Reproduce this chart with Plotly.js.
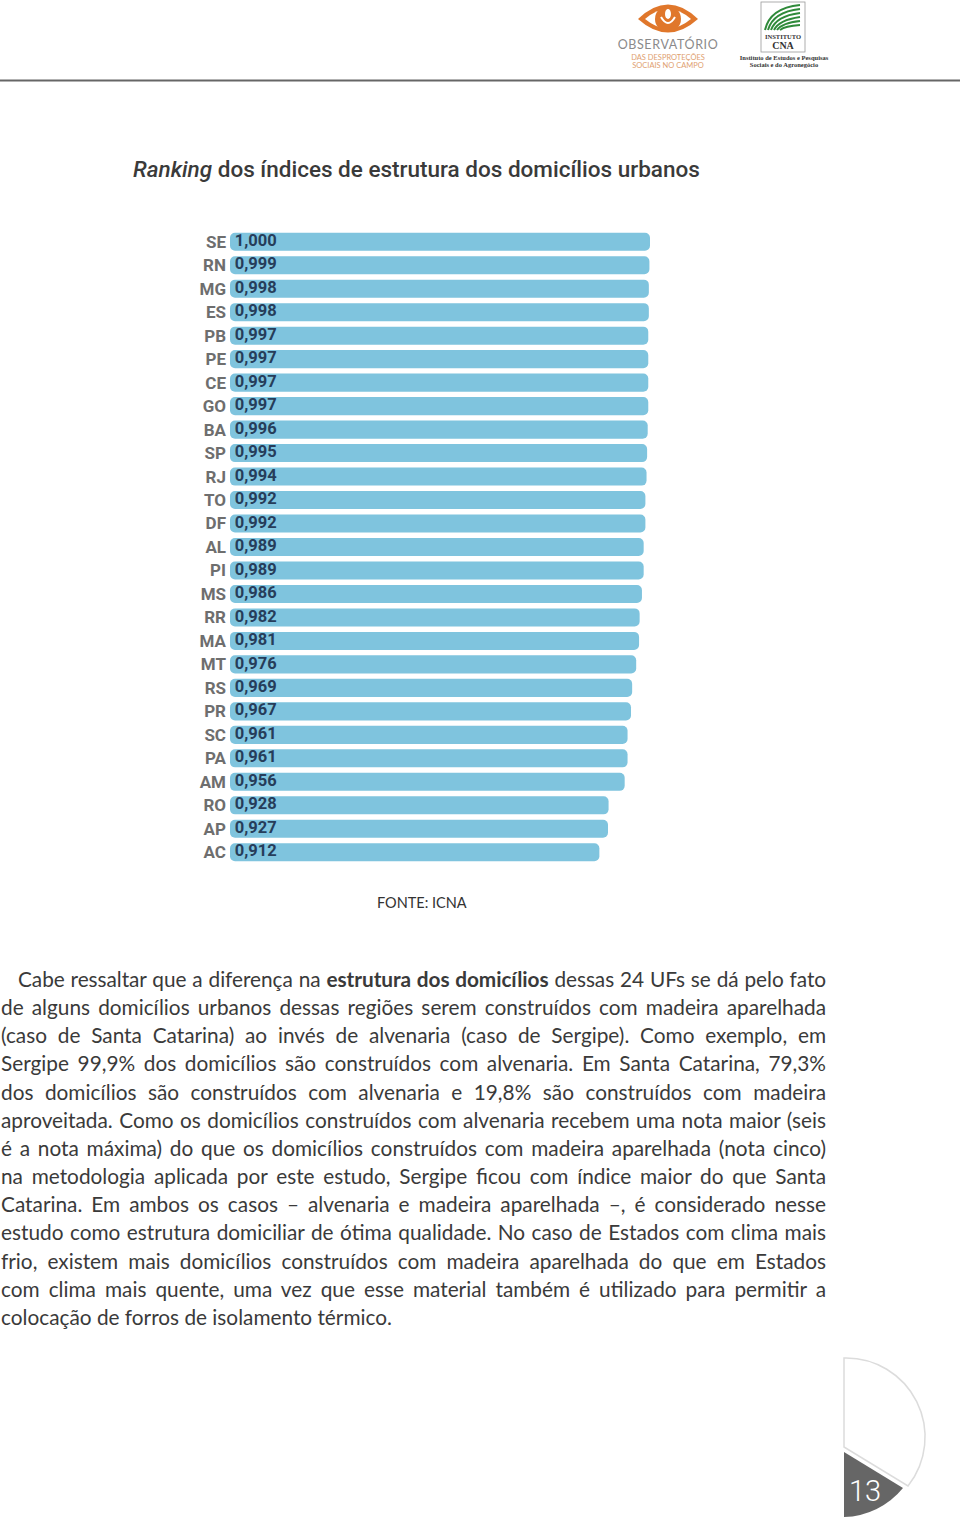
<!DOCTYPE html>
<html>
<head>
<meta charset="utf-8">
<script src="https://cdn.plot.ly/plotly-3.0.1.min.js"></script>
<style>
  html, body { margin:0; padding:0; background:#fff; }
  body { width:960px; height:1520px; position:relative; overflow:hidden; }
  #chart { position:absolute; left:0; top:0; width:960px; height:930px; }
  #para { position:absolute; left:1px; top:965px; width:825px; font-family:Lato, "Open Sans", sans-serif; font-size:20.8px; line-height:28.17px; color:#3a3a3a; }
  #para div { text-align:justify; text-align-last:justify; white-space:nowrap; height:28.17px; }
  #para div.last { text-align-last:left; }
  #para div.first { padding-left:17px; letter-spacing:-0.05px; }
</style>
</head>
<body>
<svg style="position:absolute;left:0;top:0" width="960" height="90">
  <path d="M638,19 Q668,-10 698,19 Q668,46 638,19 Z" fill="#e0772b"/>
  <path d="M645,19 Q668,-1 691,19 Q668,38 645,19 Z" fill="#fff"/>
  <circle cx="668" cy="19" r="13" fill="#e0772b"/>
  <path d="M661,17 Q668,29 675,17" stroke="#fff" stroke-width="2" fill="none"/>
  <ellipse cx="668" cy="14" rx="3" ry="5" fill="#fff"/>
  <text x="668" y="49" text-anchor="middle" font-family="Lato, sans-serif" font-size="12.5" letter-spacing="0.6" fill="#8a8a8a">OBSERVATÓRIO</text>
  <text x="668" y="60" text-anchor="middle" font-family="Lato, sans-serif" font-size="7.5" fill="#e0a070">DAS DESPROTEÇÕES</text>
  <text x="668" y="68" text-anchor="middle" font-family="Lato, sans-serif" font-size="7.5" fill="#e0a070">SOCIAIS NO CAMPO</text>
  <rect x="761" y="2" width="44" height="50" fill="#fff" stroke="#999" stroke-width="0.8"/>
  <path d="M765,30 Q770,8 800,5 M768,30 Q773,12 800,9 M771,30 Q776,16 800,13 M774,30 Q779,20 800,17 M777,30 Q782,23 800,21 M780,30 Q785,26 800,25" stroke="#2f8a3a" stroke-width="2" fill="none"/>
  <text x="783" y="39" text-anchor="middle" font-family="'Liberation Serif', serif" font-size="6.5" font-weight="bold" fill="#333">INSTITUTO</text>
  <text x="783" y="49" text-anchor="middle" font-family="'Liberation Serif', serif" font-size="10" font-weight="bold" fill="#333">CNA</text>
  <text x="784" y="60" text-anchor="middle" font-family="'Liberation Serif', serif" font-size="6.5" font-weight="bold" fill="#333">Instituto de Estudos e Pesquisas</text>
  <text x="784" y="67" text-anchor="middle" font-family="'Liberation Serif', serif" font-size="6.5" font-weight="bold" fill="#333">Sociais e do Agronegócio</text>
  <line x1="0" y1="80.5" x2="960" y2="80.5" stroke="#666" stroke-width="2"/>
</svg>

<div id="chart"></div>

<div id="para">
  <div class="first">Cabe ressaltar que a diferença na <b>estrutura dos domicílios</b> dessas 24 UFs se dá pelo fato</div>
  <div>de alguns domicílios urbanos dessas regiões serem construídos com madeira aparelhada</div>
  <div>(caso de Santa Catarina) ao invés de alvenaria (caso de Sergipe). Como exemplo, em</div>
  <div>Sergipe 99,9% dos domicílios são construídos com alvenaria. Em Santa Catarina, 79,3%</div>
  <div>dos domicílios são construídos com alvenaria e 19,8% são construídos com madeira</div>
  <div>aproveitada. Como os domicílios construídos com alvenaria recebem uma nota maior (seis</div>
  <div>é a nota máxima) do que os domicílios construídos com madeira aparelhada (nota cinco)</div>
  <div>na metodologia aplicada por este estudo, Sergipe ficou com índice maior do que Santa</div>
  <div>Catarina. Em ambos os casos – alvenaria e madeira aparelhada –, é considerado nesse</div>
  <div>estudo como estrutura domiciliar de ótima qualidade. No caso de Estados com clima mais</div>
  <div>frio, existem mais domicílios construídos com madeira aparelhada do que em Estados</div>
  <div>com clima mais quente, uma vez que esse material também é utilizado para permitir a</div>
  <div class="last">colocação de forros de isolamento térmico.</div>
</div>

<svg style="position:absolute;top:1340px;left:820px" width="140" height="180">
  <path d="M24,18 A79,79 0 0 1 88,146 L24,107 Z" fill="#fff" stroke="#dcdcdc" stroke-width="1.5"/>
  <path d="M24,112 L83,148 A79,79 0 0 1 24,177 Z" fill="#666"/>
  <text x="29" y="161" font-family="Roboto, sans-serif" font-weight="300" font-size="29" fill="#fff">13</text>
</svg>

<script>
const states = ["SE","RN","MG","ES","PB","PE","CE","GO","BA","SP","RJ","TO","DF","AL","PI","MS","RR","MA","MT","RS","PR","SC","PA","AM","RO","AP","AC"];
const indexValues = [1.000,0.999,0.998,0.998,0.997,0.997,0.997,0.997,0.996,0.995,0.994,0.992,0.992,0.989,0.989,0.986,0.982,0.981,0.976,0.969,0.967,0.961,0.961,0.956,0.928,0.927,0.912];
const axisStart = 0.27;   // truncated index axis, as in the source graphic
const axisEnd = 1.0;
const chartTitle = "<i>Ranking</i> dos índices de estrutura dos domicílios urbanos";
const sourceText = "FONTE: ICNA";

const condensed = "Roboto, 'Liberation Sans Narrow', sans-serif";

const bars = {
  type: "bar",
  orientation: "h",
  base: axisStart,
  x: indexValues.map(v => v - axisStart),
  y: states,
  marker: { color: "#7fc4de", cornerradius: 5 },
  hoverinfo: "skip"
};

const labels = {
  type: "scatter",
  mode: "markers+text",
  x: states.map(() => axisStart),
  y: states,
  text: indexValues.map(v => v.toFixed(3).replace(".", ",")),
  textposition: "middle right",
  marker: { size: 6, color: "rgba(0,0,0,0)" },
  textfont: { family: condensed, size: 16.5, color: "#263d5a", weight: "bold" },
  hoverinfo: "skip",
  cliponaxis: false
};

const layout = {
  width: 960, height: 930,
  margin: { l: 230, r: 310, t: 230, b: 66 },
  paper_bgcolor: "rgba(0,0,0,0)",
  plot_bgcolor: "rgba(0,0,0,0)",
  bargap: 0.23,
  showlegend: false,
  title: {
    text: chartTitle,
    font: { family: condensed, size: 22.5, color: "#3a3a3a", weight: 500 },
    x: 133/960, xanchor: "left", xref: "container",
    y: 1 - 169/930, yanchor: "middle", yref: "container"
  },
  xaxis: { range: [axisStart, axisEnd], visible: false, fixedrange: true },
  yaxis: {
    range: [states.length - 0.5, -0.5],
    ticks: "",
    showline: false,
    showgrid: false,
    zeroline: false,
    ticklabelstandoff: 3,
    tickfont: { family: condensed, size: 17, color: "#6e6e6e", weight: "bold" }
  },
  annotations: [{
    text: sourceText, xref: "paper", yref: "paper",
    x: (422 - 230) / 420, y: (864 - 902) / 634,
    xanchor: "center", yanchor: "middle", showarrow: false,
    font: { family: "Lato, 'Open Sans', sans-serif", size: 14.5, color: "#333" }
  }]
};

Plotly.newPlot("chart", [bars, labels], layout, { displayModeBar: false, staticPlot: true });
</script>
</body>
</html>
